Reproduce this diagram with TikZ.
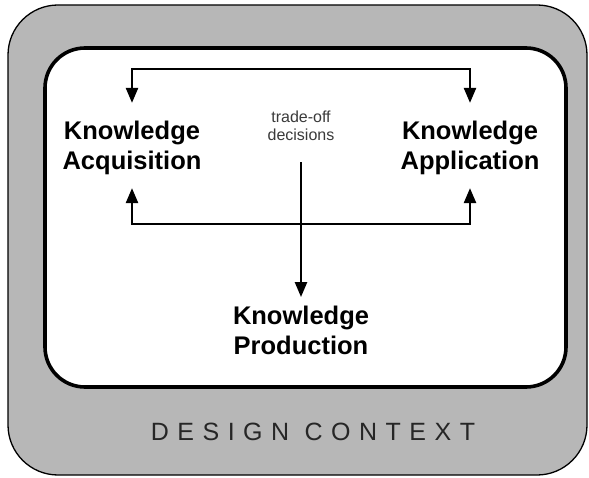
\documentclass[tikz,border=0pt]{standalone}
\usepackage{fontspec}
\setmainfont{Liberation Sans}
\usetikzlibrary{arrows.meta}
\definecolor{ctxgray}{HTML}{B7B7B7}
\definecolor{txtgray}{HTML}{3A3A3A}
\tikzset{
  kbox/.style={font=\fontsize{25.5}{30}\selectfont\bfseries, align=center, inner sep=0pt},
  arr/.style={line width=2.4pt, -{Triangle[length=15pt,width=12pt]}},
}
\begin{document}
\begin{tikzpicture}[x=1pt,y=-1pt]
\useasboundingbox (0,0) rectangle (589,478);
% frames
\draw[fill=ctxgray, line width=1.3pt, rounded corners=50pt] (8,5) rectangle (587,475);
\draw[fill=white, line width=3.6pt, rounded corners=40pt] (45,48) rectangle (566,387);
% nodes
\node[kbox] (acq) at (132,148.4) {Knowledge\\Acquisition};
\node[kbox] (app) at (470,148.4) {Knowledge\\Application};
\node[kbox] (prod) at (301,330) {Knowledge\\Production};
\node[font=\fontsize{16}{18}\selectfont, text=txtgray, align=center, inner sep=0pt] (tod) at (301,126) {trade-off\\decisions};
\node[font=\fontsize{25}{30}\selectfont\addfontfeatures{LetterSpace=34}, text=black!85, inner sep=0pt] (ctx) at (313,432) {DESIGN CONTEXT};
% connector junctions
\coordinate (top) at (301,69);
\coordinate (bot) at (301,224);
% connectors
\draw[arr, shorten >=18.4pt] (top) -| (acq.north);
\draw[arr, shorten >=18.4pt] (top) -| (app.north);
\draw[arr, shorten >=12.6pt] (bot) -| (acq.south);
\draw[arr, shorten >=12.6pt] (bot) -| (app.south);
\draw[arr, shorten <=21pt, shorten >=8.4pt] (tod.south) -- (prod.north);
\end{tikzpicture}
\end{document}
